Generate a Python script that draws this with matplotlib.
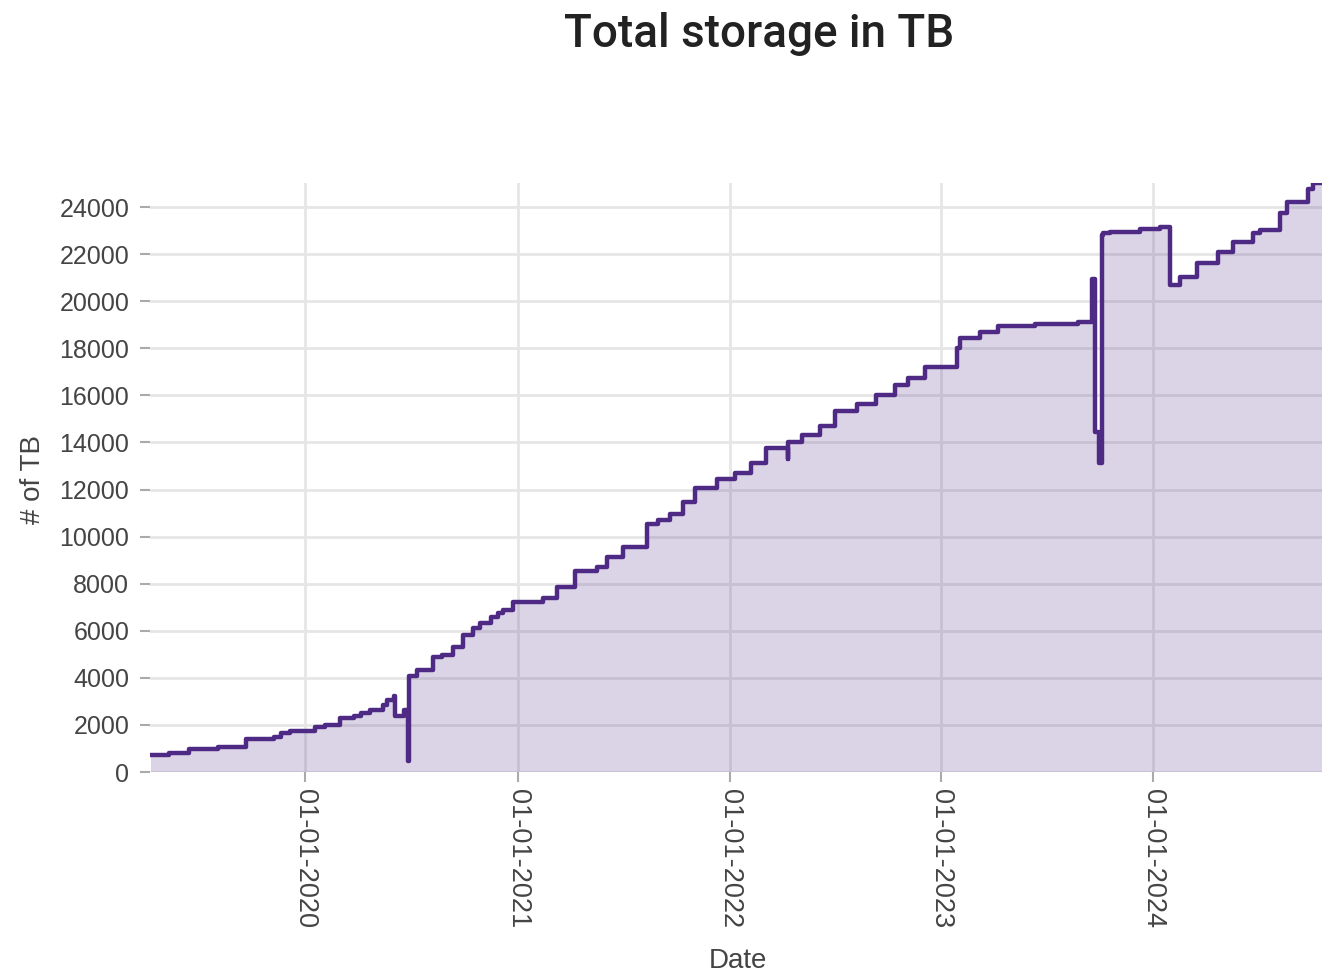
import pandas as pd
import matplotlib
matplotlib.use('Agg')
from matplotlib import pyplot as plt
import matplotlib.dates as mdates

# step points (value holds until the next date)
dates = [
    '2019-04-09', '2019-05-10', '2019-06-14', '2019-08-04', '2019-09-20',
    '2019-11-07', '2019-11-19', '2019-12-06', '2020-01-18', '2020-02-04',
    '2020-03-01', '2020-03-24', '2020-04-05', '2020-04-22', '2020-05-14',
    '2020-05-21', '2020-06-01', '2020-06-04', '2020-06-18', '2020-06-26',
    '2020-06-28', '2020-07-12', '2020-08-08', '2020-08-24', '2020-09-12',
    '2020-09-29', '2020-10-15', '2020-10-28', '2020-11-15', '2020-11-27',
    '2020-12-07', '2020-12-23', '2021-02-14', '2021-03-10', '2021-04-10',
    '2021-05-18', '2021-06-04', '2021-07-02', '2021-08-12', '2021-08-31',
    '2021-09-21', '2021-10-12', '2021-11-03', '2021-12-11', '2022-01-11',
    '2022-02-06', '2022-03-05', '2022-04-11', '2022-04-12', '2022-05-06',
    '2022-06-06', '2022-07-02', '2022-08-09', '2022-09-11', '2022-10-13',
    '2022-11-05', '2022-12-03', '2023-01-28', '2023-02-02', '2023-03-09',
    '2023-04-09', '2023-06-12', '2023-08-25', '2023-09-18', '2023-09-23',
    '2023-09-30', '2023-10-05', '2023-10-07', '2023-10-19', '2023-12-10',
    '2024-01-13', '2024-01-30', '2024-02-16', '2024-03-17', '2024-03-22',
    '2024-04-22', '2024-05-18', '2024-06-21', '2024-07-03', '2024-08-07',
    '2024-08-19', '2024-09-24', '2024-10-03', '2024-10-18',
]
storage_tb = [
    720, 820, 965, 1075, 1390,
    1500, 1640, 1755, 1900, 2000,
    2280, 2380, 2500, 2650, 2850,
    3060, 3230, 2380, 2630, 480,
    4080, 4330, 4900, 4970, 5320,
    5820, 6100, 6315, 6600, 6740,
    6880, 7235, 7380, 7870, 8550,
    8720, 9150, 9570, 10535, 10700,
    10960, 11480, 12050, 12430, 12710,
    13110, 13750, 13280, 14000, 14315,
    14700, 15350, 15630, 16015, 16440,
    16720, 17215, 18000, 18420, 18705,
    18950, 19030, 19130, 20930, 14450,
    13110, 22810, 22910, 22950, 23050,
    23140, 20690, 21040, 21640, 21640,
    22100, 22525, 22910, 23025, 23730,
    24225, 24750, 25000, 25000,
]
tick_dates = ['2020-01-01', '2021-01-01', '2022-01-01', '2023-01-01', '2024-01-01']


def main():
    x = pd.to_datetime(dates)
    line_color = '#4E2A84'

    fig = plt.figure(figsize=(13.22, 9.73), dpi=100)
    ax = fig.add_axes([150 / 1322, 1 - 772 / 973, 1 - 150 / 1322, (772 - 183) / 973])

    ax.fill_between(x, storage_tb, step='post', color=line_color, alpha=0.2, linewidth=0, zorder=2)
    ax.step(x, storage_tb, where='post', color=line_color, linewidth=3.2, zorder=3)

    ax.set_xlim(pd.Timestamp('2019-04-08'), pd.Timestamp('2024-10-18'))
    ax.set_ylim(0, 25020)

    ax.set_yticks(range(0, 24001, 2000))
    ax.set_xticks(pd.to_datetime(tick_dates))
    ax.xaxis.set_major_formatter(mdates.DateFormatter('%d-%m-%Y'))

    ax.grid(True, color='#E6E6E6', linewidth=2, zorder=0)
    ax.set_axisbelow(True)
    for s in ax.spines.values():
        s.set_visible(False)

    ax.tick_params(axis='both', colors='#AAAAAA', length=7, width=1.5, labelcolor='#444444')
    ax.tick_params(axis='y', pad=8, labelsize=18)
    ax.tick_params(axis='x', pad=5, labelsize=19.5)
    for lbl in ax.get_xticklabels():
        lbl.set_rotation(270)
        lbl.set_va('top')
        lbl.set_ha('center')
        lbl.set_fontfamily('Liberation Sans')
    for lbl in ax.get_yticklabels():
        lbl.set_fontfamily('Liberation Sans')

    fig.text(33 / 1322, 1 - 480 / 973, '# of TB', rotation=90, ha='center', va='center',
             fontsize=20, color='#444444', family='Liberation Sans')
    fig.text(738 / 1322, 1 - 961 / 973, 'Date', ha='center', va='center',
             fontsize=20, color='#444444', family='Liberation Sans')
    fig.text(759 / 1322, 1 - 47 / 973, 'Total storage in TB', ha='center', va='baseline',
             fontsize=33, color='#222222', family='Roboto', fontweight='medium')

    fig.savefig('out.png', dpi=100)


if __name__ == "__main__":
    main()
